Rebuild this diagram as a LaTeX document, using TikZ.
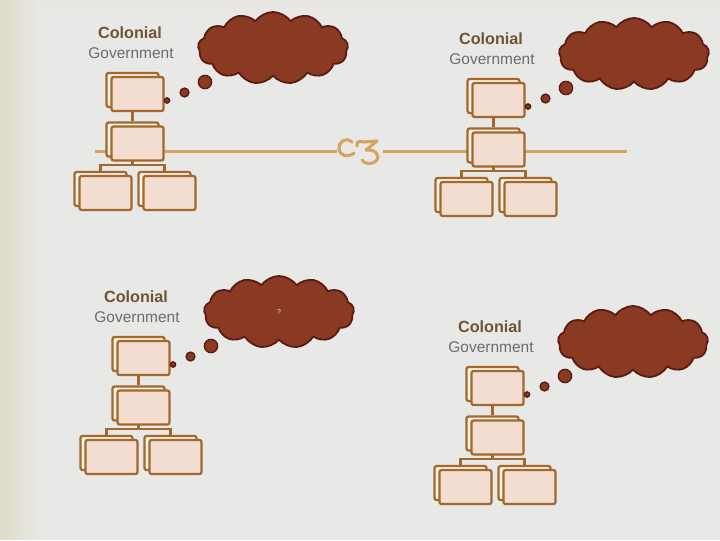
\documentclass[tikz,border=0pt]{standalone}
\usepackage{fontspec}
\setmainfont{Liberation Sans}
\usetikzlibrary{shapes.symbols}

\definecolor{slidegray}{HTML}{E8E8E6}
\definecolor{slidebeige}{HTML}{DDDCC6}
\definecolor{boxline}{HTML}{A2682C}
\definecolor{boxfront}{HTML}{F2DDD0}
\definecolor{boxback}{HTML}{FCF4E6}
\definecolor{cloudfill}{HTML}{8A3A22}
\definecolor{cloudline}{HTML}{5A1C12}
\definecolor{rulegold}{HTML}{D6A462}
\definecolor{titlebrown}{HTML}{6E5433}
\definecolor{subgray}{HTML}{6C6C6C}

\pgfdeclarelayer{under}
\pgfsetlayers{under,main}

\tikzset{
  orgback/.style={draw=boxline, fill=boxback, line width=1.6pt, rounded corners=1.5pt,
    minimum width=1.3cm, minimum height=0.85cm, inner sep=0pt},
  orgfront/.style={orgback, fill=boxfront},
  orgline/.style={draw=boxline, line width=1.9pt},
  thought/.style={cloud, cloud puffs=13, cloud puff arc=110, aspect=2.1,
    draw=cloudline, fill=cloudfill, line width=1.3pt, minimum width=3.75cm,
    minimum height=1.8cm, inner sep=0pt, text=white!85!cloudfill, font=\tiny},
  bubble/.style={circle, draw=cloudline, fill=cloudfill, line width=1pt, inner sep=0pt},
  coltitle/.style={font=\fontsize{11.5}{13}\selectfont\bfseries, text=titlebrown},
  colsub/.style={font=\fontsize{11}{13}\selectfont, text=subgray},
}

\begin{document}
\begin{tikzpicture}[x=0.025cm, y=-0.025cm]
    \useasboundingbox (0,0) rectangle (720,540);

    % Slide background
    \begin{pgfonlayer}{under}
      \fill [slidegray] (0,0) rectangle (720,540);
      \foreach \k in {0,...,19} {
        \pgfmathtruncatemacro{\mix}{100-5*\k}
        \fill [slidebeige!\mix!slidegray] (2*\k,0) rectangle (2*\k+2.2,540);
        \fill [slidebeige!\mix!slidegray] (2*\k,0) rectangle (720,0.7*\k+0.8);
      }

      % Divider rule and ornament
      \draw [rulegold, line width=1.6pt] (95,151.5) -- (337,151.5);
      \draw [rulegold, line width=1.6pt] (383,151.5) -- (627,151.5);
      \draw [rulegold, line width=2.2pt, line cap=round]
            (352,142) .. controls (345,136) and (338,143) .. (339,149)
            .. controls (340,156) and (348,158) .. (354,153);
      \draw [rulegold, line width=2.2pt, line cap=round, line join=round]
            (357,146) .. controls (356,141) and (360,141) .. (364,142)
            -- (377,141) -- (366,150)
            .. controls (375,149) and (381,155) .. (376,161)
            .. controls (372,165) and (364,164) .. (362,160);
    \end{pgfonlayer}

    \foreach \i/\dx/\dy/\q in {1/0/0/{},2/361/6/{},3/6/264/{?},4/360/294/{}} {
      \begin{scope}[shift={(\dx,\dy)}]
        % Heading
        \node [coltitle] (col\i) at (130,33) {Colonial};
        \node [colsub] (gov\i) at (131,53) {Government};

        % Org chart boxes (back, then front)
        \node [orgback] (tb\i) at (132.5,90) {};
        \node [orgfront] (tf\i) at (137.5,94) {};
        \node [orgback] (mb\i) at (132.5,139.5) {};
        \node [orgfront] (mf\i) at (137.5,143.5) {};
        \node [orgback] (lb\i) at (100.5,189) {};
        \node [orgfront] (lf\i) at (105.5,193) {};
        \node [orgback] (rb\i) at (164.5,189) {};
        \node [orgfront] (rf\i) at (169.5,193) {};

        % Thought cloud
        \node [thought] (cl\i) at (273,48) {\q\hspace{0.2cm}};
        \node [bubble, minimum size=0.13cm] (bs\i) at (167,100.5) {};
        \node [bubble, minimum size=0.22cm] (bm\i) at (184.5,92.5) {};
        \node [bubble, minimum size=0.33cm] (bl\i) at (205,82) {};

        % Edges
        \begin{pgfonlayer}{under}
          \draw [orgline] (tb\i.south) -- (mb\i.north);
          \draw [orgline] (mb\i.south) -- ++(0,7.5) coordinate (jn\i);
          \draw [orgline] (jn\i) -| (lb\i.north);
          \draw [orgline] (jn\i) -| (rb\i.north);
        \end{pgfonlayer}
      \end{scope}
    }
\end{tikzpicture}
\end{document}
